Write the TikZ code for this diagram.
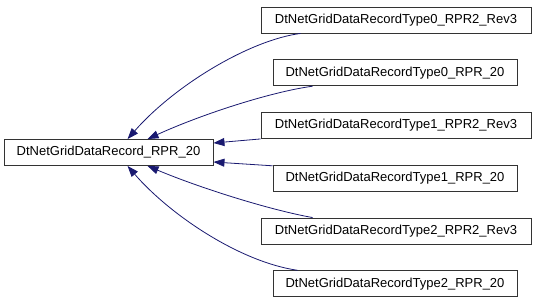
\documentclass[tikz,border=0pt]{standalone}
\usepackage{fontspec}
\setmainfont{Liberation Sans}
\usetikzlibrary{arrows.meta}
\definecolor{edgeblue}{RGB}{25,25,112}
\begin{document}
\begin{tikzpicture}[x=1pt,y=-1pt,
  cls/.style={draw=black!80, line width=0.9pt, fill=white, inner sep=0pt, minimum height=26pt,
    font=\fontsize{13}{15}\selectfont},
  wide/.style={cls, minimum width=270pt},
  narrow/.style={cls, minimum width=244pt},
  inh/.style={draw=edgeblue, line width=0.8pt, -{Triangle[length=11pt,width=8pt]}}]
\useasboundingbox (0,0) rectangle (536,307);
\node[cls, minimum width=209pt] (p) at (108.5,152.5) {DtNetGridDataRecord\_RPR\_20};
\node[wide]   (c1) at (396,20)     {DtNetGridDataRecordType0\_RPR2\_Rev3};
\node[narrow] (c2) at (395,72.75)  {DtNetGridDataRecordType0\_RPR\_20};
\node[wide]   (c3) at (396,125.5)  {DtNetGridDataRecordType1\_RPR2\_Rev3};
\node[narrow] (c4) at (395,178.25) {DtNetGridDataRecordType1\_RPR\_20};
\node[wide]   (c5) at (396,231)    {DtNetGridDataRecordType2\_RPR2\_Rev3};
\node[narrow] (c6) at (395,283.75) {DtNetGridDataRecordType2\_RPR\_20};
\draw[inh] ([xshift=40pt]c1.south west) .. controls (250,40) and (175,85) .. ([xshift=124pt]p.north west);
\draw[inh] ([xshift=40pt]c2.south west) .. controls (270,92) and (200,115) .. ([xshift=144pt]p.north west);
\draw[inh] (c3.south west) -- ([yshift=9.5pt]p.east);
\draw[inh] ([yshift=-1pt]c4.north west) -- ([yshift=-9.5pt]p.east);
\draw[inh] ([xshift=52pt]c5.north west) .. controls (270,210) and (200,188) .. ([xshift=144pt]p.south west);
\draw[inh] ([xshift=25pt]c6.north west) .. controls (240,262) and (170,215) .. ([xshift=124pt]p.south west);
\end{tikzpicture}
\end{document}
